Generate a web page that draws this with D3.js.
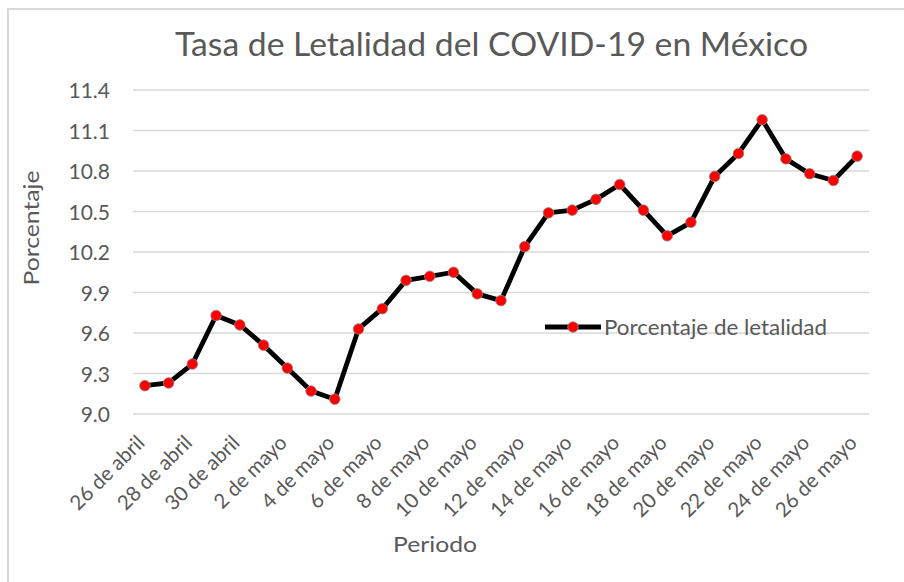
<!DOCTYPE html>
<html><head><meta charset="utf-8">
<script src="https://cdn.jsdelivr.net/npm/d3@7"></script>
<style>body{margin:0;background:#fff}svg{display:block}text{font-family:Lato,"Open Sans",sans-serif;fill:#595959}</style>
</head><body>
<svg id="c" width="904" height="582"></svg>
<script>
const categories = ["26 de abril","27 de abril","28 de abril","29 de abril","30 de abril","1 de mayo","2 de mayo","3 de mayo","4 de mayo","5 de mayo","6 de mayo","7 de mayo","8 de mayo","9 de mayo","10 de mayo","11 de mayo","12 de mayo","13 de mayo","14 de mayo","15 de mayo","16 de mayo","17 de mayo","18 de mayo","19 de mayo","20 de mayo","21 de mayo","22 de mayo","23 de mayo","24 de mayo","25 de mayo","26 de mayo"];
const values = [9.21,9.23,9.37,9.73,9.66,9.51,9.34,9.17,9.11,9.63,9.78,9.99,10.02,10.05,9.89,9.84,10.24,10.49,10.51,10.59,10.70,10.51,10.32,10.42,10.76,10.93,11.18,10.89,10.78,10.73,10.91];
const yTicks = [9.0,9.3,9.6,9.9,10.2,10.5,10.8,11.1,11.4];
const seriesName = "Porcentaje de letalidad";
const title = "Tasa de Letalidad del COVID-19 en México";

(function(){
const svg = d3.select("#c");
svg.append("rect").attr("x",8).attr("y",9).attr("width",920).attr("height",600)
  .attr("fill","#fff").attr("stroke","#d9d9d9").attr("stroke-width",2);

const pL=133, pR=869, pT=90, pB=414;
const x = d3.scaleBand().domain(categories).range([pL,pR]);
const y = d3.scaleLinear().domain([9.0,11.4]).range([pB,pT]);

svg.append("text").attr("x",175).attr("y",56).attr("font-size",33)
  .attr("textLength",633).attr("lengthAdjust","spacingAndGlyphs").text(title);

svg.append("g").selectAll("line").data(yTicks).join("line")
  .attr("x1",pL).attr("x2",pR).attr("y1",d=>y(d)).attr("y2",d=>y(d))
  .attr("stroke","#d9d9d9").attr("stroke-width",1.3);

const ya = svg.append("g").attr("transform",`translate(${pL},0)`)
  .call(d3.axisLeft(y).tickValues(yTicks).tickFormat(d3.format(".1f")).tickSize(0).tickPadding(23));
ya.select(".domain").remove();
ya.selectAll("text").attr("font-size",21).attr("fill","#595959").style("font-family","Lato").attr("dy","0.36em");

const xa = svg.append("g").attr("transform",`translate(0,${pB})`)
  .call(d3.axisBottom(x).tickValues(categories.filter((d,i)=>i%2===0)).tickSize(0));
xa.select(".domain").remove();
xa.selectAll("text").attr("font-size",20.5).attr("fill","#595959").style("font-family","Lato")
  .attr("text-anchor","end").attr("dy",0).attr("y",0)
  .attr("transform","translate(1,30) rotate(-45)");

svg.append("text").attr("transform","translate(39,228) rotate(-90)").attr("text-anchor","middle")
  .attr("font-size",22).attr("textLength",115).attr("lengthAdjust","spacingAndGlyphs").text("Porcentaje");
svg.append("text").attr("x",435).attr("y",552).attr("text-anchor","middle")
  .attr("font-size",22).attr("textLength",84).attr("lengthAdjust","spacingAndGlyphs").text("Periodo");

const line = d3.line().x((d,i)=>x(categories[i])+x.bandwidth()/2).y(d=>y(d));
svg.append("path").datum(values).attr("d",line).attr("fill","none")
  .attr("stroke","#000").attr("stroke-width",4.8).attr("stroke-linejoin","round");
svg.append("g").selectAll("circle").data(values).join("circle")
  .attr("cx",(d,i)=>x(categories[i])+x.bandwidth()/2).attr("cy",d=>y(d)).attr("r",5.3)
  .attr("fill","#ff0000").attr("stroke","#8c8c8c").attr("stroke-width",0.8);

const lg = svg.append("g").attr("transform","translate(545,327)");
lg.append("line").attr("x1",0).attr("x2",56).attr("y1",0).attr("y2",0).attr("stroke","#000").attr("stroke-width",4.8);
lg.append("circle").attr("cx",28).attr("cy",0).attr("r",5.3).attr("fill","#ff0000").attr("stroke","#8c8c8c").attr("stroke-width",0.8);
lg.append("text").attr("x",59).attr("y",0).attr("dy","0.36em").attr("font-size",21)
  .attr("textLength",223).attr("lengthAdjust","spacingAndGlyphs").text(seriesName);
})();
</script>
</body></html>
